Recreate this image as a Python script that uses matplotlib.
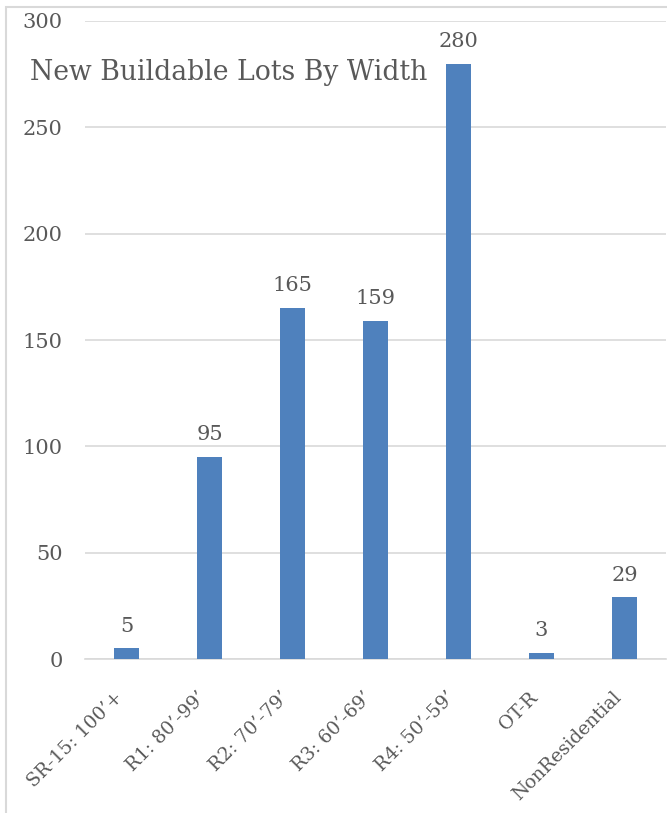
import matplotlib
matplotlib.use('Agg')
import matplotlib.pyplot as plt
from matplotlib.patches import Rectangle

categories = ["SR-15: 100\u2019+", "R1: 80\u2019-99\u2019", "R2: 70\u2019-79\u2019",
              "R3: 60\u2019-69\u2019", "R4: 50\u2019-59\u2019", "OT-R", "NonResidential"]
lots = [5, 95, 165, 159, 280, 3, 29]
y_ticks = [0, 50, 100, 150, 200, 250, 300]

plt.rcParams['font.family'] = ['DejaVu Serif', 'Liberation Serif']
text_color = '#595959'
bar_color = '#4F81BD'

fig = plt.figure(figsize=(6.67, 8.13), dpi=100)
ax = fig.add_axes([85 / 667, 1 - 659 / 813, 581 / 667, 638 / 813])

# outer chart frame (top and left edges visible)
fig.patches.append(Rectangle((6 / 667, -0.01), 1.0, 1 - 7 / 813 + 0.01,
                             transform=fig.transFigure, fill=False,
                             edgecolor='#D9D9D9', linewidth=1.5))

x = range(len(categories))
ax.bar(x, lots, width=0.31, color=bar_color, zorder=3)
for xi, v in zip(x, lots):
    ax.annotate(str(v), (xi, v), xytext=(0, 12), textcoords='offset points',
                ha='center', va='baseline', fontsize=15, color=text_color)

ax.set_xlim(-0.5, len(categories) - 0.5)
ax.set_ylim(0, 300)
ax.set_yticks(y_ticks)
ax.set_yticklabels([str(t) for t in y_ticks], fontsize=15, color=text_color)
ax.set_xticks(list(x))
ax.set_xticklabels(categories, rotation=45, ha='right', va='top',
                   fontsize=13.5, color=text_color)
ax.tick_params(axis='both', length=0)
ax.tick_params(axis='y', pad=16)
ax.tick_params(axis='x', pad=21)

ax.grid(axis='y', color='#D9D9D9', linewidth=1.2, zorder=0)
for s in ['top', 'right', 'left']:
    ax.spines[s].set_visible(False)
ax.spines['bottom'].set_color('#D9D9D9')
ax.spines['bottom'].set_linewidth(1.2)

fig.text(30 / 667, 1 - 72 / 813, 'New Buildable Lots By Width', fontsize=19.2,
         color=text_color, va='center', ha='left')

fig.savefig('out.png', dpi=100)
